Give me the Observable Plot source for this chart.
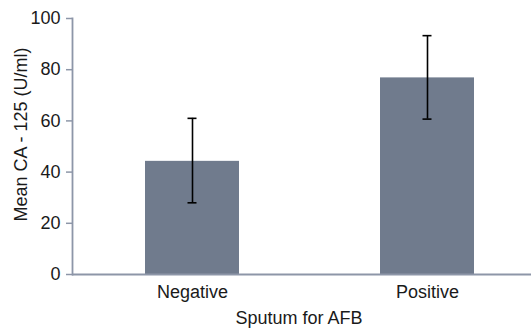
<!DOCTYPE html>
<html>
<head>
<meta charset="utf-8">
<script src="https://cdn.jsdelivr.net/npm/d3@7"></script>
<script src="https://cdn.jsdelivr.net/npm/@observablehq/plot@0.6"></script>
<style>
  html, body { margin: 0; padding: 0; background: #fff; }
</style>
</head>
<body>
<div id="chart"></div>
<script>
const categories = ["Negative", "Positive"];
const means = [44.2, 76.8];
const lower = [28.0, 60.7];
const upper = [61.0, 93.3];
const yTicks = [0, 20, 40, 60, 80, 100];
const xLabel = "Sputum for AFB";
const yLabel = "Mean CA - 125 (U/ml)";

const data = categories.map((c, i) => ({cat: c, mean: means[i], lo: lower[i], hi: upper[i]}));

const axisColor = "#8d96a8";
const barColor = "#707b8d";
const font = "'Liberation Sans', Arial, sans-serif";

const chart = Plot.plot({
  width: 531,
  height: 333,
  marginLeft: 72,
  marginRight: 0,
  marginTop: 18,
  marginBottom: 59,
  style: {fontFamily: font, fontSize: "18px", color: "#1a1a1a", background: "#fff"},
  x: {domain: categories, range: [72, 546], paddingInner: 0.602, paddingOuter: 0.309, align: 0.5},
  y: {domain: [0, 100]},
  marks: [
    Plot.barY(data, {x: "cat", y: "mean", fill: barColor}),
    Plot.ruleX(data, {x: "cat", y1: "lo", y2: "hi", stroke: "#000", strokeWidth: 1.6}),
    Plot.tickY(data, {x: "cat", y: "lo", stroke: "#000", strokeWidth: 1.6, inset: 42.5}),
    Plot.tickY(data, {x: "cat", y: "hi", stroke: "#000", strokeWidth: 1.6, inset: 42.5}),
    Plot.axisY({ticks: yTicks, tickSize: 6, tickPadding: 6, stroke: axisColor, strokeWidth: 1.5, label: null, fontSize: 18}),
    Plot.axisX({tickSize: 0, tickPadding: 11, label: null, fontSize: 18}),
    Plot.frame({anchor: "left", stroke: axisColor, strokeWidth: 1.8}),
    Plot.ruleY([0], {stroke: axisColor, strokeWidth: 1.8}),
    Plot.text([yLabel], {frameAnchor: "left", textAnchor: "middle", lineAnchor: "middle", dx: -51, dy: -12, rotate: -90, fontSize: 18, fill: "#1a1a1a"}),
    Plot.text([xLabel], {frameAnchor: "bottom", textAnchor: "middle", lineAnchor: "middle", dx: -3, dy: 44, fontSize: 18, fill: "#1a1a1a"})
  ]
});
document.getElementById("chart").appendChild(chart);
</script>
</body>
</html>
